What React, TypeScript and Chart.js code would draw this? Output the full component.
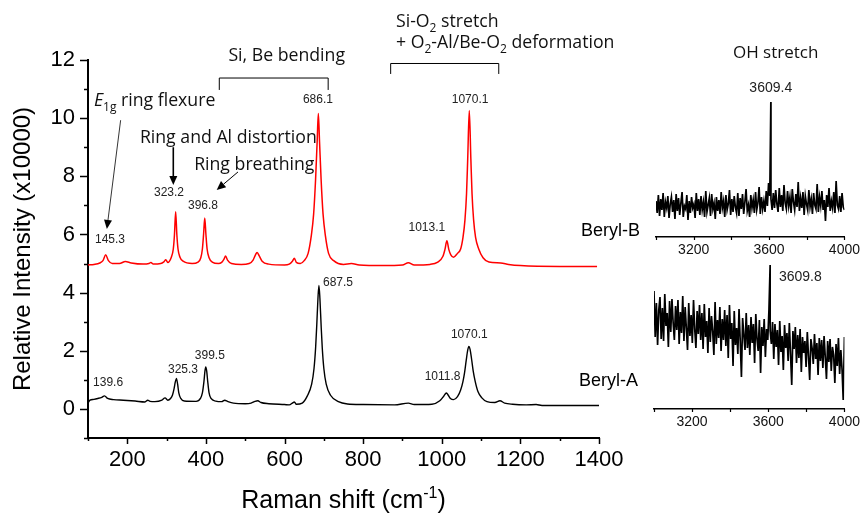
import React, { useEffect, useRef } from 'react';
import { Chart, registerables } from 'chart.js';
Chart.register(...registerables);

// ---------- data ----------
const BERYL_B: [number, number][] = [
  [100, 4.95], [115, 4.97], [130, 5.02], [138, 5.1], [145, 5.3], [152, 5.1], [162, 5.0], [180, 5.0], [195, 5.07],
  [210, 5.02], [240, 4.98], [255, 5.0], [260, 5.04], [266, 4.98], [285, 5.0], [293, 5.06], [298, 5.13], [303, 5.04],
  [312, 5.22], [317, 5.5], [320, 6.0], [323, 6.78], [326, 6.0], [329, 5.5], [334, 5.22], [342, 5.08], [365, 5.0],
  [380, 5.05], [387, 5.2], [391, 5.5], [394, 6.0], [397, 6.57], [400, 6.0], [403, 5.5], [408, 5.2], [416, 5.05],
  [432, 5.0], [440, 5.04], [446, 5.15], [450, 5.26], [455, 5.12], [465, 5.0], [490, 4.97], [510, 5.0], [520, 5.12],
  [526, 5.3], [530, 5.38], [535, 5.28], [543, 5.08], [560, 4.98], [600, 4.95], [612, 4.98], [620, 5.08], [625, 5.18],
  [630, 5.04], [640, 5.0], [650, 5.1], [660, 5.35], [668, 5.95], [674, 6.7], [679, 7.9], [683, 9.2], [686, 10.16],
  [689, 9.2], [693, 7.9], [698, 6.7], [704, 5.95], [712, 5.35], [725, 5.1], [750, 4.97], [770, 5.0], [790, 4.95],
  [850, 4.93], [900, 4.95], [915, 5.03], [930, 4.95], [970, 4.97], [990, 5.05], [1003, 5.25], [1008, 5.48],
  [1013, 5.78], [1018, 5.48], [1023, 5.3], [1030, 5.22], [1040, 5.35], [1048, 5.5], [1054, 5.9], [1059, 6.5],
  [1063, 7.4], [1066, 8.6], [1070, 10.26], [1074, 8.6], [1077, 7.4], [1081, 6.5], [1086, 5.9], [1094, 5.5],
  [1105, 5.2], [1120, 5.05], [1150, 5.02], [1170, 4.97], [1200, 4.93], [1300, 4.9], [1395, 4.9],
];

const BERYL_A: [number, number][] = [
  [100, 0.2], [105, 0.3], [115, 0.33], [125, 0.36], [135, 0.4], [142, 0.45], [150, 0.36], [165, 0.32], [190, 0.3],
  [220, 0.27], [245, 0.24], [252, 0.3], [258, 0.26], [270, 0.25], [288, 0.3], [296, 0.38], [303, 0.3], [310, 0.36],
  [315, 0.48], [319, 0.7], [322, 0.92], [325, 1.05], [328, 0.85], [331, 0.55], [336, 0.36], [345, 0.27], [375, 0.26],
  [386, 0.36], [391, 0.55], [395, 0.95], [397.5, 1.3], [399.5, 1.44], [402, 1.3], [404.5, 0.95], [408, 0.55],
  [413, 0.36], [425, 0.27], [440, 0.25], [448, 0.3], [455, 0.26], [470, 0.2], [500, 0.18], [515, 0.2], [525, 0.26],
  [532, 0.28], [540, 0.22], [560, 0.18], [600, 0.15], [612, 0.14], [620, 0.2], [625, 0.24], [630, 0.16], [645, 0.2],
  [658, 0.45], [669, 0.85], [675, 1.39], [679, 2.09], [682, 2.89], [685, 3.8], [687.5, 4.25], [690, 3.8], [693, 2.89],
  [696, 2.09], [700, 1.39], [706, 0.85], [717, 0.47], [737, 0.25], [760, 0.17], [800, 0.15], [880, 0.14], [915, 0.2],
  [930, 0.15], [975, 0.16], [995, 0.28], [1004, 0.42], [1008, 0.5], [1012, 0.55], [1016, 0.48], [1022, 0.36],
  [1030, 0.32], [1040, 0.42], [1048, 0.65], [1054, 0.95], [1058, 1.25], [1062, 1.65], [1066, 2.02], [1069, 2.15],
  [1072, 2.05], [1076, 1.7], [1080, 1.3], [1085, 0.95], [1092, 0.6], [1102, 0.38], [1115, 0.25], [1135, 0.22],
  [1148, 0.28], [1160, 0.2], [1180, 0.16], [1215, 0.14], [1240, 0.15], [1255, 0.12], [1400, 0.12],
];

const X_TICK_LABELS = ['200', '400', '600', '800', '1000', '1200', '1400'];
const Y_TICK_LABELS = ['0', '2', '4', '6', '8', '10', '12'];
const OH_TICK_LABELS = ['3200', '3600', '4000'];

// OH stretch region, evenly sampled 3000..4000 cm-1 (arbitrary units)
const OH_B_NOISE = [
  3.6, 2.4, 4.2, 2.1, 3.8, 2.7, 4.4, 2.0, 3.5, 2.9, 4.1, 1.9, 3.3, 4.0, 2.5, 3.7, 1.8, 4.3, 2.6, 3.9,
  2.2, 3.4, 4.5, 2.0, 3.1, 2.8, 4.2, 1.7, 3.6, 2.4, 4.0, 2.9, 3.3, 1.9, 4.4, 2.6, 3.8, 2.2, 4.1, 2.7,
  3.5, 2.0, 4.6, 2.5, 3.2, 3.9, 2.1, 4.3, 2.8, 3.4, 1.8, 4.0, 2.6, 3.7, 2.3, 4.5, 2.9, 3.6, 2.0, 4.2,
  2.7, 3.3, 4.7, 2.2, 3.8, 2.5, 4.1, 3.0, 2.4, 4.4, 2.1, 3.9, 2.8, 4.3, 2.3, 3.5, 4.8, 2.6, 3.2, 2.0,
  4.2, 2.9, 3.7, 2.4, 4.5, 2.7, 3.4, 5.0, 2.3, 4.0, 2.8, 3.6, 2.5, 4.6, 3.1, 5.4, 4.1, 3.8, 2.7, 4.4,
  2.9, 4.7, 3.3, 2.5, 4.9, 3.0, 4.2, 2.6, 5.2, 3.4, 2.8, 4.6, 3.1, 4.0, 2.4, 4.8, 3.5, 2.7, 4.3, 3.0,
  5.5, 2.6, 3.9, 2.9, 4.5, 2.2, 4.1, 3.3, 2.7, 4.7, 3.0, 3.8, 2.3, 4.4, 3.2, 2.8, 5.3, 2.5, 4.0, 3.1,
  4.6, 2.7, 3.7, 1.6, 4.2, 3.0, 4.9, 2.6, 3.6, 2.9, 4.5, 2.4, 5.6, 3.2, 2.8, 4.1, 2.5, 4.4, 3.0, 2.7,
];
const OH_A_NOISE = [
  11.8, 7.2, 10.6, 6.4, 9.9, 11.2, 7.0, 10.1, 6.8, 11.5, 8.3, 9.6, 6.2, 10.8, 7.7, 11.0, 8.6, 6.9, 10.3, 7.9,
  10.9, 6.5, 9.7, 7.6, 11.3, 6.8, 10.2, 8.1, 5.9, 10.6, 7.3, 9.4, 6.6, 10.9, 8.0, 6.1, 9.8, 7.5, 10.4, 6.9,
  9.6, 6.0, 10.5, 7.2, 8.8, 5.6, 10.1, 6.7, 9.3, 7.8, 5.4, 10.7, 6.5, 8.9, 7.1, 10.2, 5.8, 9.0, 6.9, 9.9,
  6.3, 9.4, 5.1, 10.4, 7.0, 8.6, 4.3, 9.8, 6.4, 8.1, 5.5, 10.0, 6.8, 3.2, 9.1, 7.4, 5.9, 9.6, 6.1, 8.4,
  5.4, 9.2, 6.6, 8.5, 4.6, 9.5, 7.0, 5.8, 8.9, 3.6, 8.2, 6.3, 9.0, 5.2, 8.0, 6.9, 10.0, 7.8, 6.5, 8.7,
  5.0, 8.5, 6.2, 7.9, 4.4, 8.8, 5.7, 7.3, 3.9, 8.4, 6.1, 7.6, 4.8, 8.6, 5.5, 2.4, 7.8, 6.0, 8.2, 4.6,
  7.4, 5.1, 8.0, 3.7, 7.2, 5.6, 6.8, 4.2, 7.7, 5.3, 2.9, 7.0, 6.1, 4.5, 7.5, 5.0, 6.6, 3.4, 7.1, 4.8,
  6.9, 4.1, 7.3, 5.2, 3.0, 6.8, 4.7, 7.0, 3.8, 6.2, 5.4, 2.6, 6.5, 4.3, 7.1, 3.5, 5.9, 4.0, 0.9, 7.2,
];
const OH_B_PEAK: [number, number] = [3609.4, 13.5];
const OH_A_PEAK: [number, number] = [3609.8, 14.4];

// peak labels (text, anchor in data units)
const PEAK_LABELS_B: [string, number, number][] = [
  ['145.3', 156, 5.81], ['323.2', 306, 7.45], ['396.8', 392.5, 7.0], ['686.1', 685, 10.62],
  ['1013.1', 962, 6.22], ['1070.1', 1072, 10.62],
];
const PEAK_LABELS_A: [string, number, number][] = [
  ['139.6', 151, 0.89], ['325.3', 341.7, 1.34], ['399.5', 410, 1.82], ['687.5', 736, 4.34],
  ['1011.8', 1002, 1.1], ['1070.1', 1070, 2.54],
];
const SERIES_NAMES: [string, number, number][] = [['Beryl-B', 1354, 6.11], ['Beryl-A', 1349, 0.96]];

type Part = { t: string; italic?: boolean; sub?: boolean; sup?: boolean };
const NOTES: { x: number; y: number; align?: string; parts: Part[] }[] = [
  { x: 115, y: 10.62, parts: [{ t: 'E', italic: true }, { t: '1g', sub: true }, { t: ' ring flexure' }] },
  { x: 232, y: 9.35, parts: [{ t: 'Ring and Al distortion' }] },
  { x: 370, y: 8.45, parts: [{ t: 'Ring breathing' }] },
  { x: 605.5, y: 12.17, align: 'center', parts: [{ t: 'Si, Be bending' }] },
  { x: 883.5, y: 13.35, parts: [{ t: 'Si-O' }, { t: '2', sub: true }, { t: ' stretch' }] },
  { x: 883.5, y: 12.63, parts: [{ t: '+ O' }, { t: '2', sub: true }, { t: '-Al/Be-O' }, { t: '2', sub: true }, { t: ' deformation' }] },
];
const BRACKETS: [number, number, number, number][] = [[434, 711, 11.38, 10.97], [870, 1145, 11.88, 11.52]];
const ARROWS: [number, number, number, number, number][] = [
  [183, 9.93, 148, 6.19, 0.8], [317, 9.0, 317, 7.7, 1.6], [481.6, 8.15, 427.4, 7.53, 1],
];

const NOTE_FONT = '"Open Sans", "Noto Sans", sans-serif';
const NUM_FONT = '"Liberation Sans", Arial, sans-serif';

function drawRich(ctx: CanvasRenderingContext2D, x: number, yMid: number, parts: Part[], size: number, family: string, align = 'left') {
  let total = 0;
  const info = parts.map((p) => {
    const s = p.sub || p.sup ? Math.round(size * 0.65) : size;
    const f = `${p.italic ? 'italic ' : ''}${s}px ${family}`;
    ctx.font = f;
    const w = ctx.measureText(p.t).width;
    total += w;
    return { f, w, dy: p.sub ? size * 0.28 : p.sup ? -size * 0.4 : 0 };
  });
  let cx = align === 'center' ? x - total / 2 : align === 'right' ? x - total : x;
  ctx.textAlign = 'left';
  ctx.textBaseline = 'alphabetic';
  const base = yMid + size * 0.36;
  parts.forEach((p, i) => {
    ctx.font = info[i].f;
    ctx.fillText(p.t, cx, base + info[i].dy);
    cx += info[i].w;
  });
}

function drawArrow(ctx: CanvasRenderingContext2D, x1: number, y1: number, x2: number, y2: number, w: number) {
  const head = 9, half = 4;
  const a = Math.atan2(y2 - y1, x2 - x1);
  const bx = x2 - head * Math.cos(a), by = y2 - head * Math.sin(a);
  ctx.lineWidth = w;
  ctx.beginPath(); ctx.moveTo(x1, y1); ctx.lineTo(bx, by); ctx.stroke();
  ctx.beginPath();
  ctx.moveTo(x2, y2);
  ctx.lineTo(bx + half * Math.sin(a), by - half * Math.cos(a));
  ctx.lineTo(bx - half * Math.sin(a), by + half * Math.cos(a));
  ctx.closePath(); ctx.fill();
}

const mainPlugin = {
  id: 'mainDecor',
  afterDraw(chart: any) {
    const ctx: CanvasRenderingContext2D = chart.ctx;
    const xs = chart.scales.x, ys = chart.scales.y;
    const area = chart.chartArea;
    const X = (v: number) => xs.getPixelForValue(v);
    const Y = (v: number) => ys.getPixelForValue(v);
    ctx.save();
    ctx.strokeStyle = '#000'; ctx.fillStyle = '#000';
    // ticks
    ctx.lineWidth = 1.5;
    xs.ticks.forEach((t: any) => {
      const px = Math.round(X(t.value)) + 0.5;
      const len = t.label ? 6 : 3;
      ctx.beginPath(); ctx.moveTo(px, area.bottom); ctx.lineTo(px, area.bottom + len); ctx.stroke();
    });
    ys.ticks.forEach((t: any) => {
      const py = Math.round(Y(t.value)) + 0.5;
      const len = t.label ? 8 : 4;
      ctx.beginPath(); ctx.moveTo(area.left, py); ctx.lineTo(area.left - len, py); ctx.stroke();
    });
    // peak labels
    ctx.font = `12px ${NUM_FONT}`;
    ctx.textAlign = 'center'; ctx.textBaseline = 'middle';
    ctx.fillStyle = '#222';
    [...PEAK_LABELS_B, ...PEAK_LABELS_A].forEach(([t, x, y]) => ctx.fillText(t, X(x), Y(y)));
    // series names
    ctx.fillStyle = '#000';
    ctx.font = `18px ${NUM_FONT}`;
    ctx.textAlign = 'left';
    SERIES_NAMES.forEach(([t, x, y]) => ctx.fillText(t, X(x), Y(y)));
    // notes
    ctx.fillStyle = '#111';
    NOTES.forEach((n) => drawRich(ctx, X(n.x), Y(n.y), n.parts, 17.7, NOTE_FONT, n.align || 'left'));
    // brackets
    ctx.lineWidth = 1;
    ctx.strokeStyle = '#000';
    BRACKETS.forEach(([x1, x2, y, yEnd]) => {
      ctx.beginPath();
      ctx.moveTo(X(x1), Y(yEnd)); ctx.lineTo(X(x1), Y(y)); ctx.lineTo(X(x2), Y(y)); ctx.lineTo(X(x2), Y(yEnd));
      ctx.stroke();
    });
    // arrows
    ctx.fillStyle = '#000';
    ARROWS.forEach(([x1, y1, x2, y2, w]) => drawArrow(ctx, X(x1), Y(y1), X(x2), Y(y2), w));
    // x title with superscript
    drawRich(ctx, (area.left + area.right) / 2, chart.height - 14,
      [{ t: 'Raman shift (cm' }, { t: '-1', sup: true }, { t: ')' }], 25, NUM_FONT, 'center');
    ctx.restore();
  },
};

function makeInsetPlugin(peakLabel: string, labelAt: [number, number], align: string, title?: [string, number, number]) {
  return {
    id: 'insetDecor',
    afterDraw(chart: any) {
      const ctx: CanvasRenderingContext2D = chart.ctx;
      const xs = chart.scales.x, ys = chart.scales.y;
      const area = chart.chartArea;
      ctx.save();
      ctx.strokeStyle = '#000'; ctx.fillStyle = '#000'; ctx.lineWidth = 1.2;
      xs.ticks.forEach((t: any) => {
        const px = Math.round(xs.getPixelForValue(t.value)) + 0.5;
        ctx.beginPath(); ctx.moveTo(px, area.bottom); ctx.lineTo(px, area.bottom + 3); ctx.stroke();
      });
      ctx.font = `14px ${NUM_FONT}`;
      ctx.textAlign = align as CanvasTextAlign; ctx.textBaseline = 'middle';
      ctx.fillStyle = '#222';
      ctx.fillText(peakLabel, xs.getPixelForValue(labelAt[0]), ys.getPixelForValue(labelAt[1]));
      if (title) {
        ctx.fillStyle = '#111';
        drawRich(ctx, xs.getPixelForValue(title[1]), ys.getPixelForValue(title[2]), [{ t: title[0] }], 17, NOTE_FONT, 'center');
      }
      ctx.restore();
    },
  };
}

function ohData(noise: number[], peak: [number, number]) {
  const pts = noise.map((v, i) => ({ x: 3000 + (i * 1000) / (noise.length - 1), y: v }));
  pts.push({ x: peak[0], y: peak[1] });
  pts.sort((a, b) => a.x - b.x);
  return pts;
}

function insetConfig(noise: number[], peak: [number, number], pad: any, xHeight: number, plugin: any) {
  return {
    type: 'line' as const,
    data: {
      datasets: [{ data: ohData(noise, peak), borderColor: '#000', borderWidth: 1.7, pointRadius: 0, tension: 0 }],
    },
    options: {
      animation: false as const,
      responsive: false,
      layout: { padding: pad },
      plugins: { legend: { display: false }, tooltip: { enabled: false } },
      scales: {
        x: {
          type: 'linear' as const, min: 3000, max: 4000,
          afterFit: (s: any) => { s.height = xHeight; },
          grid: { display: false, drawTicks: false },
          border: { display: true, color: '#000', width: 1.5 },
          ticks: {
            stepSize: 200, autoSkip: false, maxRotation: 0, padding: 5, color: '#111',
            font: { family: NUM_FONT, size: 14 },
            callback: (v: any) => (OH_TICK_LABELS.includes(String(v)) ? String(v) : ''),
          },
        },
        y: { display: false, min: 0, max: 15 },
      },
    },
    plugins: [plugin],
  };
}

export default function App() {
  const mainRef = useRef<HTMLCanvasElement>(null);
  const topRef = useRef<HTMLCanvasElement>(null);
  const botRef = useRef<HTMLCanvasElement>(null);

  useEffect(() => {
    document.body.style.margin = '0';
    const main = new Chart(mainRef.current!, {
      type: 'line',
      data: {
        datasets: [
          { data: BERYL_B.map(([x, y]) => ({ x, y })), borderColor: '#ff0000', borderWidth: 1.5, pointRadius: 0, cubicInterpolationMode: 'monotone' },
          { data: BERYL_A.map(([x, y]) => ({ x, y })), borderColor: '#000000', borderWidth: 1.4, pointRadius: 0, cubicInterpolationMode: 'monotone' },
        ],
      },
      options: {
        animation: false,
        responsive: false,
        layout: { padding: { left: 0, right: 266, top: 60, bottom: 0 } },
        plugins: { legend: { display: false }, tooltip: { enabled: false } },
        scales: {
          x: {
            type: 'linear', min: 100, max: 1400,
            afterFit: (s: any) => { s.height = 75; },
            grid: { display: false, drawTicks: false },
            border: { display: true, color: '#000', width: 2 },
            ticks: {
              stepSize: 100, autoSkip: false, maxRotation: 0, padding: 9, color: '#000',
              font: { family: NUM_FONT, size: 22 },
              callback: (v: any) => (X_TICK_LABELS.includes(String(v)) ? String(v) : ''),
            },
          },
          y: {
            min: -1, max: 12,
            afterFit: (s: any) => { s.width = 88; },
            grid: { display: false, drawTicks: false },
            border: { display: true, color: '#000', width: 2 },
            title: { display: true, text: 'Relative Intensity (x10000)', color: '#000', font: { family: NUM_FONT, size: 24 }, padding: { top: 9, bottom: 0 } },
            ticks: {
              stepSize: 1, autoSkip: false, padding: 13, color: '#000',
              font: { family: NUM_FONT, size: 22 },
              callback: (v: any) => (Y_TICK_LABELS.includes(String(v)) ? String(v) : ''),
            },
          },
        },
      },
      plugins: [mainPlugin],
    } as any);

    const top = new Chart(topRef.current!, insetConfig(OH_B_NOISE, OH_B_PEAK, { left: 36, right: 17, top: 87, bottom: 0 }, 28,
      makeInsetPlugin('3609.4', [3609, 14.9], 'center', ['OH stretch', 3635, 18.5])) as any);
    const bot = new Chart(botRef.current!, insetConfig(OH_A_NOISE, OH_A_PEAK, { left: 34, right: 16, top: 14, bottom: 0 }, 26,
      makeInsetPlugin('3609.8', [3656, 13.2], 'left')) as any);

    return () => { main.destroy(); top.destroy(); bot.destroy(); };
  }, []);

  return (
    <div style={{ position: 'absolute', left: 0, top: 0, width: 865, height: 513, background: '#fff' }}>
      <canvas ref={mainRef} width={865} height={513} style={{ position: 'absolute', left: 0, top: 0 }} />
      <canvas ref={topRef} width={245} height={265} style={{ position: 'absolute', left: 620, top: 0 }} />
      <canvas ref={botRef} width={245} height={190} style={{ position: 'absolute', left: 620, top: 245 }} />
    </div>
  );
}
